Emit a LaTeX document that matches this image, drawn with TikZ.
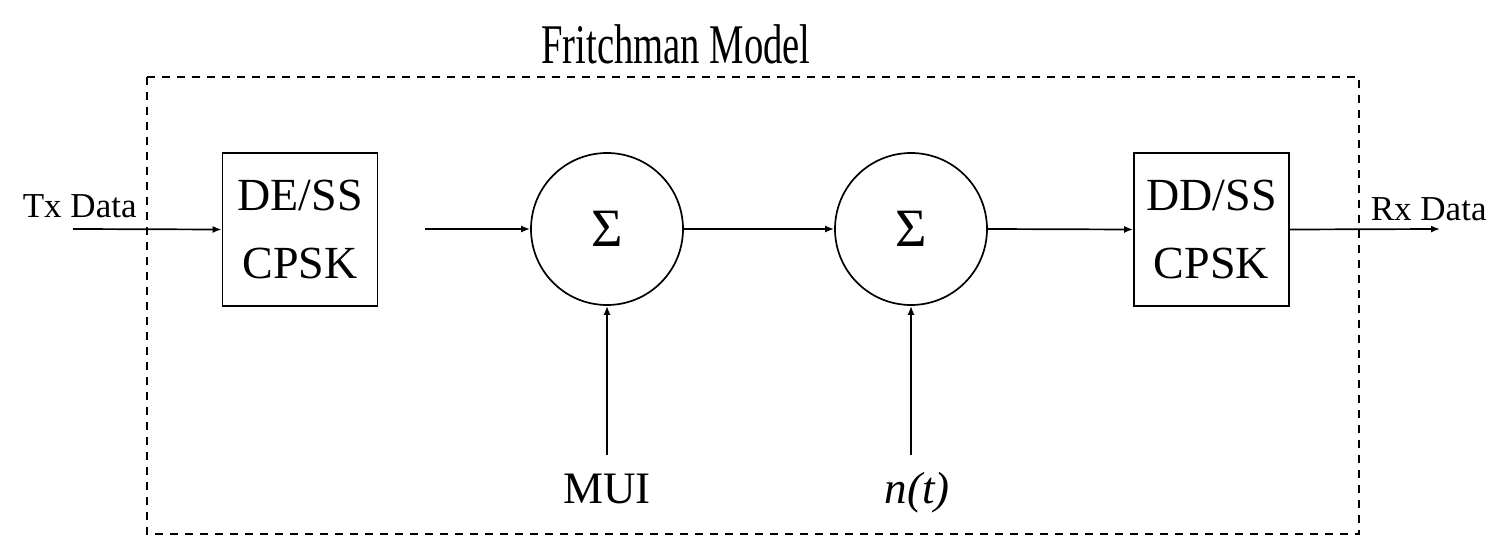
\documentclass[tikz,border=0pt]{standalone}
\usepackage{fontspec}
\setmainfont{Liberation Serif}
\usetikzlibrary{arrows.meta}
\begin{document}
\begin{tikzpicture}[x=1pt,y=-1pt,
  line width=1.7pt,
  blockbox/.style={draw, minimum width=155pt, minimum height=153pt, align=center,
    inner sep=0pt, font=\fontsize{46}{68}\selectfont},
  sumnode/.style={draw, circle, minimum size=152pt, inner sep=0pt,
    font=\fontsize{54}{54}\selectfont},
  sig/.style={-{Latex[length=9pt,width=7pt]}},
  io/.style={font=\fontsize{35}{35}\selectfont, inner sep=0pt},
  src/.style={font=\fontsize{45}{45}\selectfont, inner sep=0pt},
  frame/.style={line width=2.4pt, dash pattern=on 8pt off 7pt}]
\useasboundingbox (0,0) rectangle (1490,540);

% channel model boundary and its title
\draw[frame] (147,77) rectangle (1359,534);
\node[inner sep=0pt, anchor=base, font=\fontsize{56}{56}\selectfont] (title) at (676,64)
  {\scalebox{0.69}[1]{Fritchman Model}};

% processing blocks
\node[blockbox] (enc) at (300,229.5) {DE/SS\\CPSK};
\node[sumnode] (s1) at (607,229) {Σ};
\node[sumnode] (s2) at (911,229) {Σ};
\node[blockbox] (dec) at (1211.5,229.5) {DD/SS\\CPSK};

% external signals
\node[io, anchor=base west] (tx) at (22,218) {Tx Data};
\node[io, anchor=base west] (rx) at (1370,220) {Rx Data};
\node[src, anchor=base] (mui) at (607,503) {MUI};
\node[src, anchor=base] (noise) at (917,503) {\textit{n(t)}};

% free line ends
\coordinate (txin) at (73,229);
\coordinate (encout) at (425,229);
\coordinate (rxout) at (1440,229);
\coordinate (muiend) at (607,455);
\coordinate (nend) at (911,455);

% signal path
\draw[sig] (txin) -- (enc.west);
\draw[sig] (encout) -- (s1.west);
\draw[sig] (s1.east) -- (s2.west);
\draw[sig] (s2.east) -- (dec.west);
\draw[sig] (dec.east) -- (rxout);
\draw[sig] (muiend) -- (s1.south);
\draw[sig] (nend) -- (s2.south);
\end{tikzpicture}
\end{document}
